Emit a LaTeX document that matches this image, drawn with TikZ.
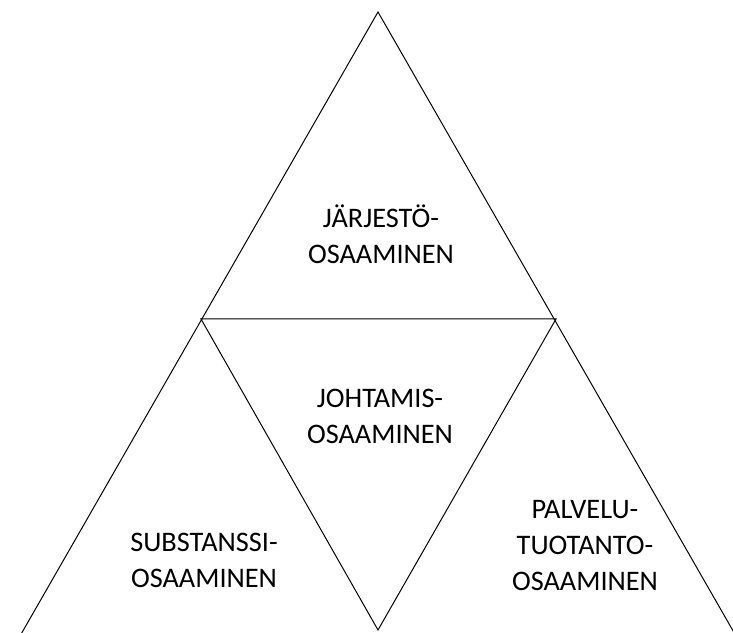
\documentclass[tikz,border=0pt]{standalone}
\usepackage{fontspec}
\setmainfont{Carlito}
\begin{document}
\begin{tikzpicture}[x=1pt,y=1pt,
  edge/.style={draw=black,line width=1pt},
  lbl/.style={align=center,inner sep=0pt,anchor=base,font=\fontsize{28.3}{36}\selectfont}]
\useasboundingbox (0,0) rectangle (733,632);
\clip (0,0) rectangle (733,632);
\coordinate (top) at (378,620);
\coordinate (ml) at (201,313);
\coordinate (mr) at (556,313);
\coordinate (bm) at (378,2);
\coordinate (bl) at (20,-4);
\coordinate (br) at (736,-4);
\draw[edge] (bl) -- (top) -- (br);
\draw[edge] (ml) -- (mr) -- (bm) -- cycle;
\node[lbl] (t1) at (381,368) {JÄRJESTÖ-\\OSAAMINEN};
\node[lbl] (t2) at (380,188) {JOHTAMIS-\\OSAAMINEN};
\node[lbl] (t3) at (204,45) {SUBSTANSSI-\\OSAAMINEN};
\node[lbl] (t4) at (585,42) {PALVELU-\\TUOTANTO-\\OSAAMINEN};
\end{tikzpicture}
\end{document}
